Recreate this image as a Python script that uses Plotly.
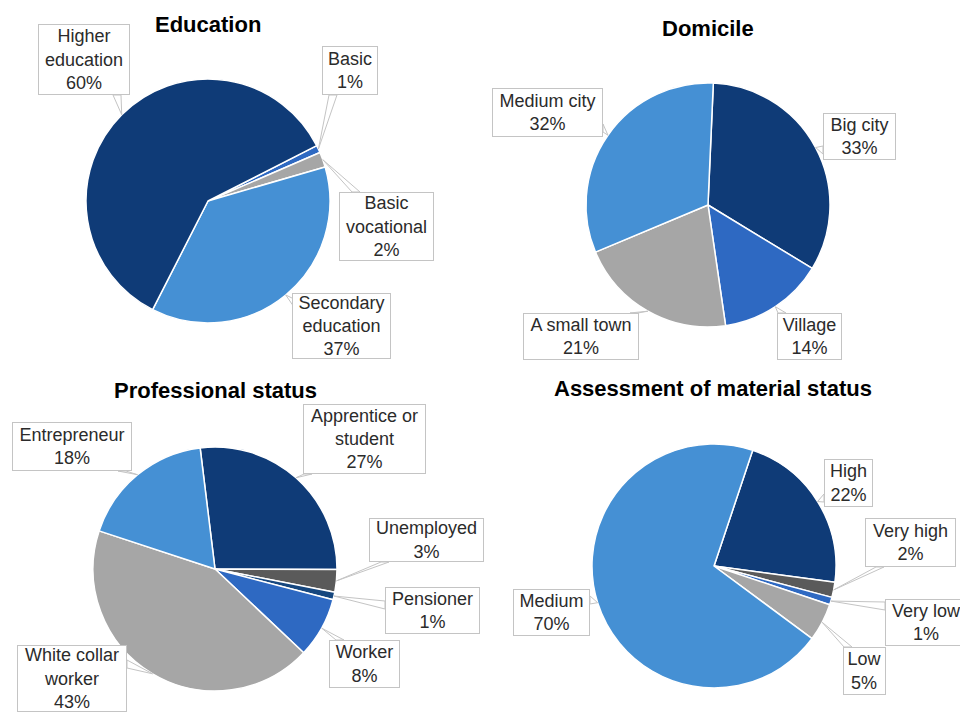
import math
import plotly.graph_objects as go

W, H = 960, 713

# ---- data -------------------------------------------------------------
edu_labels = ["Basic", "Basic vocational", "Secondary education", "Higher education"]
edu_values = [1, 2, 37, 60]

dom_labels = ["Big city", "Village", "A small town", "Medium city"]
dom_values = [33, 14, 21, 32]

prof_labels = ["Apprentice or student", "Unemployed", "Pensioner", "Worker",
               "White collar worker", "Entrepreneur"]
prof_values = [27, 3, 1, 8, 43, 18]

mat_labels = ["High", "Very high", "Very low", "Low", "Medium"]
mat_values = [22, 2, 1, 5, 70]

# ---- styling ----------------------------------------------------------
NAVY = "#0f3b77"
LIGHT = "#4590d4"
GREY = "#a6a6a6"
MID = "#2e69c2"
DARK = "#5a5a5a"
PENS = "#16477f"
FONT = "Liberation Sans, Arial, sans-serif"
TXT = "#2b2b2b"
EDGE = "#c4c4c4"

charts = [
    dict(title="Education", labels=edu_labels, values=edu_values,
         colors=[MID, GREY, LIGHT, NAVY], rotation=63,
         center=(208, 201), title_pos=(208, 24),
         boxes=[  # display text, box (x0,y0,x1,y1), wedge base (x,y), edge orient
             ("Basic<br>1%", (322, 46, 378, 95), (333, 95), "h"),
             ("Basic<br>vocational<br>2%", (339, 192, 434, 261), (356, 192), "h"),
             ("Secondary<br>education<br>37%", (292, 293, 391, 359), (294, 303), "v"),
             ("Higher<br>education<br>60%", (38, 24, 130, 95), (117, 95), "h"),
         ]),
    dict(title="Domicile", labels=dom_labels, values=dom_values,
         colors=[NAVY, MID, GREY, LIGHT], rotation=2.5,
         center=(708, 205), title_pos=(708, 28),
         boxes=[
             ("Big city<br>33%", (823, 113, 896, 160), (823, 150), "v"),
             ("Village<br>14%", (777, 313, 842, 360), (782, 313), "h"),
             ("A small town<br>21%", (523, 313, 639, 360), (634, 313), "h"),
             ("Medium city<br>32%", (492, 88, 603, 137), (603, 128), "v"),
         ]),
    dict(title="Professional status", labels=prof_labels, values=prof_values,
         colors=[NAVY, DARK, PENS, MID, GREY, LIGHT], rotation=-7,
         center=(215, 569), title_pos=(215, 391),
         boxes=[
             ("Apprentice or<br>student<br>27%", (303, 404, 426, 474), (308, 474), "h"),
             ("Unemployed<br>3%", (369, 518, 484, 562), (385, 562), "h"),
             ("Pensioner<br>1%", (385, 587, 480, 634), (385, 605), "v"),
             ("Worker<br>8%", (329, 640, 400, 688), (340, 640), "h"),
             ("White collar<br>worker<br>43%", (17, 645, 127, 712), (127, 664), "v"),
             ("Entrepreneur<br>18%", (12, 422, 132, 471), (122, 471), "h"),
         ]),
    dict(title="Assessment of material status", labels=mat_labels, values=mat_values,
         colors=[NAVY, DARK, MID, GREY, LIGHT], rotation=18.5,
         center=(714, 566), title_pos=(713, 388),
         boxes=[
             ("High<br>22%", (824, 459, 873, 507), (824, 498), "v"),
             ("Very high<br>2%", (865, 518, 956, 567), (880, 567), "h"),
             ("Very low<br>1%", (885, 599, 968, 646), (885, 606), "v"),
             ("Low<br>5%", (843, 647, 886, 695), (848, 647), "h"),
             ("Medium<br>70%", (513, 589, 590, 636), (590, 600), "v"),
         ]),
]

R = 122  # pie radius in pixels


def px(x):
    return x / W


def py(y):
    return 1 - y / H


fig = go.Figure()
shapes = []
annotations = []

for ch in charts:
    cx, cy = ch["center"]
    fig.add_trace(go.Pie(
        labels=ch["labels"], values=ch["values"], sort=False,
        direction="clockwise", rotation=ch["rotation"],
        marker=dict(colors=ch["colors"], line=dict(color="white", width=1.5)),
        textinfo="none", hoverinfo="label+percent", showlegend=False,
        domain=dict(x=[px(cx - R), px(cx + R)], y=[py(cy + R), py(cy - R)]),
    ))
    annotations.append(dict(
        text="<b>" + ch["title"] + "</b>", x=px(ch["title_pos"][0]), y=py(ch["title_pos"][1]),
        xref="paper", yref="paper", showarrow=False, xanchor="center", yanchor="middle",
        font=dict(family=FONT, size=22, color="#000000")))

    total = sum(ch["values"])
    start = ch["rotation"]
    for val, (text, box, base, orient) in zip(ch["values"], ch["boxes"]):
        span = 360 * val / total
        mid = math.radians(start + span / 2)
        start += span
        # callout tip sits on the rim at the slice's mid-angle
        ax = cx + R * math.sin(mid)
        ay = cy - R * math.cos(mid)
        bx, by = base
        d = 4
        if orient == "h":
            p1, p2 = (bx - d, by), (bx + d, by)
        else:
            p1, p2 = (bx, by - d), (bx, by + d)
        path = "M {:.5f},{:.5f} L {:.5f},{:.5f} L {:.5f},{:.5f} Z".format(
            px(p1[0]), py(p1[1]), px(ax), py(ay), px(p2[0]), py(p2[1]))
        shapes.append(dict(type="path", path=path, xref="paper", yref="paper",
                           line=dict(color=EDGE, width=1), fillcolor="white", layer="above"))
        x0, y0, x1, y1 = box
        annotations.append(dict(
            text=text, x=px((x0 + x1) / 2), y=py((y0 + y1) / 2),
            xref="paper", yref="paper", showarrow=False,
            xanchor="center", yanchor="middle", align="center",
            width=x1 - x0 - 2, height=y1 - y0 - 2, borderpad=0,
            bordercolor=EDGE, borderwidth=1, bgcolor="white",
            font=dict(family=FONT, size=18, color=TXT)))

fig.update_layout(
    width=W, height=H, margin=dict(l=0, r=0, t=0, b=0),
    paper_bgcolor="white", plot_bgcolor="white",
    shapes=shapes, annotations=annotations,
)

fig.write_html("out.html")
